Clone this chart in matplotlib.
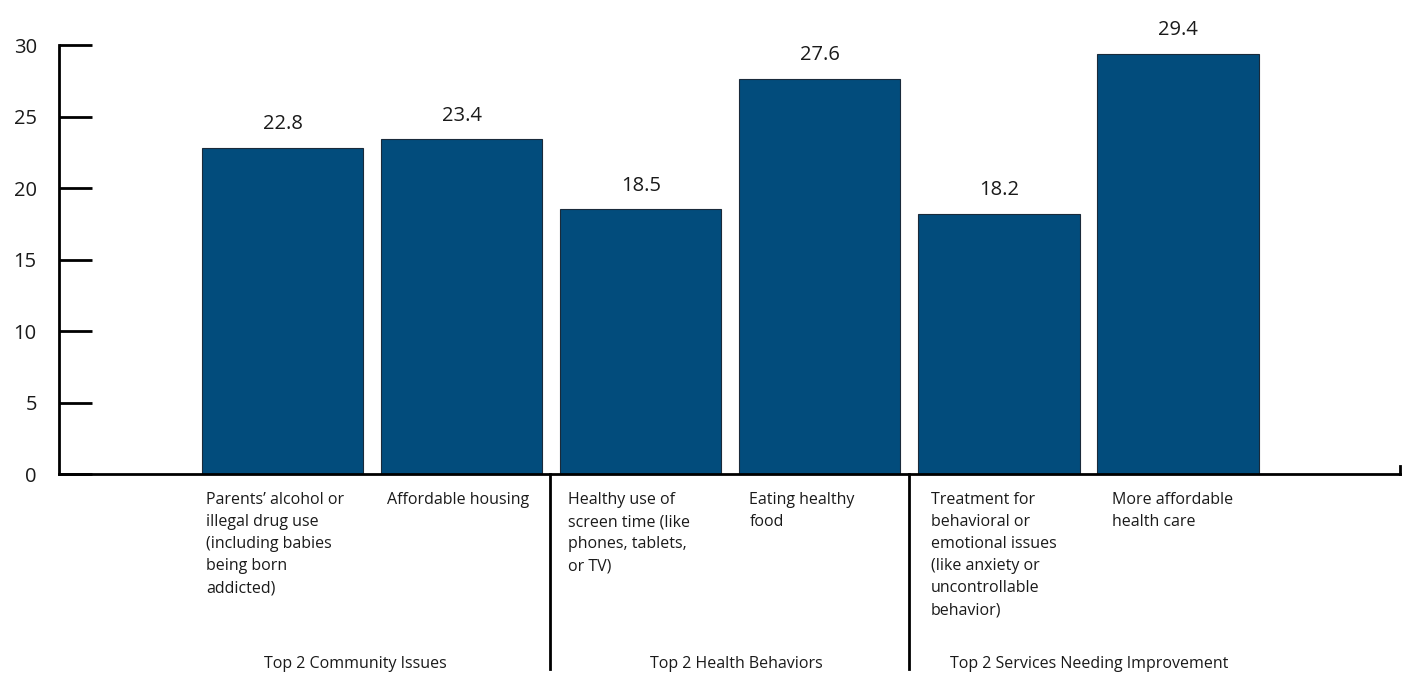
import matplotlib.pyplot as plt

plt.rcParams['font.family'] = ['Open Sans', 'DejaVu Sans']

categories = [
    "Parents\u2019 alcohol or\nillegal drug use\n(including babies\nbeing born\naddicted)",
    "Affordable housing",
    "Healthy use of\nscreen time (like\nphones, tablets,\nor TV)",
    "Eating healthy\nfood",
    "Treatment for\nbehavioral or\nemotional issues\n(like anxiety or\nuncontrollable\nbehavior)",
    "More affordable\nhealth care",
]
values = [22.8, 23.4, 18.5, 27.6, 18.2, 29.4]
groups = ["Top 2 Community Issues", "Top 2 Health Behaviors",
          "Top 2 Services Needing Improvement"]
yticks = [0, 5, 10, 15, 20, 25, 30]

bar_color = "#024c7c"

fig = plt.figure(figsize=(14.08, 6.79), dpi=100)
ax = fig.add_axes([0.0419, 0.3019, 0.9524, 0.6318])

x = list(range(len(values)))
bars = ax.bar(x, values, width=0.9, color=bar_color, edgecolor="#1a2a3a", linewidth=0.8)

for xi, v in zip(x, values):
    ax.annotate(f"{v:.1f}", (xi, v), xytext=(0, 10), textcoords="offset points",
                ha="center", va="bottom", fontsize=14.5, color="#1a1a1a")

ax.set_xlim(-1.25, 6.24)
ax.set_ylim(0, 30)

for s in ["top", "right"]:
    ax.spines[s].set_visible(False)
ax.spines["left"].set_linewidth(2)
ax.spines["bottom"].set_linewidth(2)

ax.set_yticks(yticks)
ax.set_yticklabels([str(t) for t in yticks], fontsize=14.5, color="#1a1a1a")
ax.tick_params(axis="y", direction="in", length=24, width=2, pad=16)
ax.set_xticks([])

# small upturned tick at the right end of the x axis
ax.plot([6.24, 6.24], [0, 0.55], color="black", lw=2, clip_on=False)

# category labels, left aligned under each bar
for xi, lab in zip(x, categories):
    ax.text(xi - 0.43 + 0.012 * xi, -0.043, lab, transform=ax.get_xaxis_transform(),
            ha="left", va="top", fontsize=11.5, linespacing=1.5, color="#1a1a1a")

# group separators
for sx in [1.49, 3.5]:
    ax.plot([sx, sx], [0, -0.455], transform=ax.get_xaxis_transform(),
            color="black", lw=2, clip_on=False)

group_x = [0.405, 2.536, 4.506]
for gx, g in zip(group_x, groups):
    ax.text(gx, -0.443, g, transform=ax.get_xaxis_transform(),
            ha="center", va="center", fontsize=11.5, color="#1a1a1a")

fig.savefig("out.png", dpi=100)
